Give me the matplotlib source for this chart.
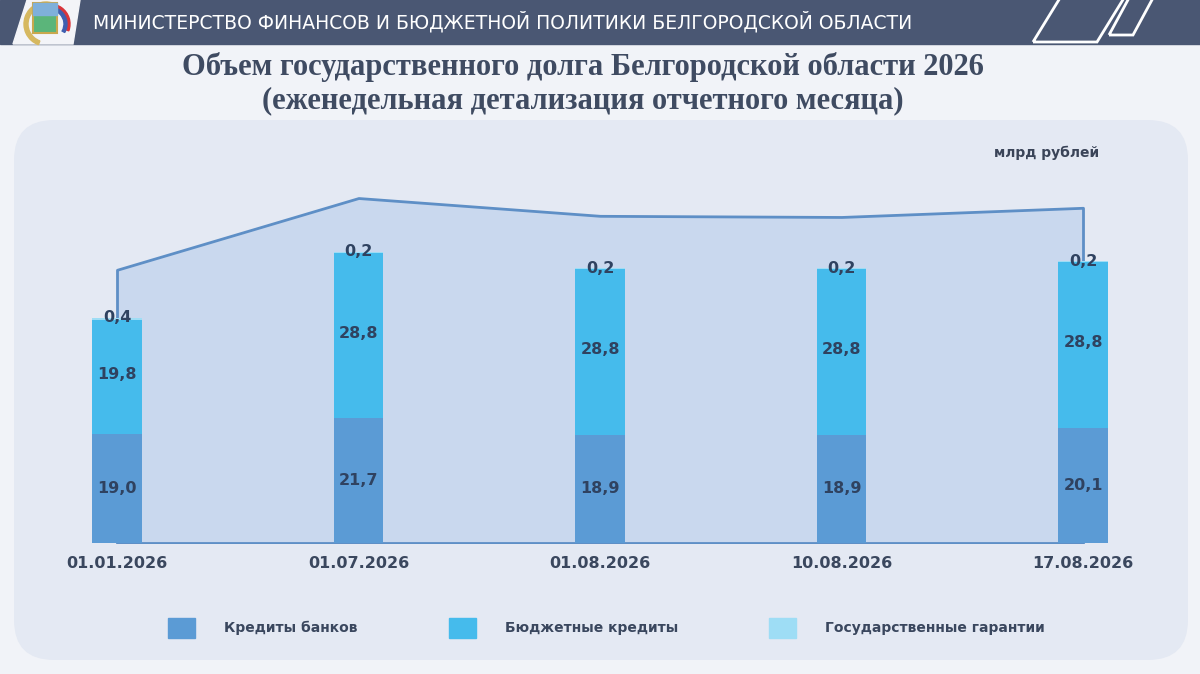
import matplotlib
matplotlib.use('Agg')
from matplotlib import pyplot as plt
from matplotlib.patches import FancyBboxPatch, Polygon, Rectangle, Wedge

# data (млрд рублей)
dates = ['01.01.2026', '01.07.2026', '01.08.2026', '10.08.2026', '17.08.2026']
bank_credits = [19.0, 21.7, 18.9, 18.9, 20.1]
budget_credits = [19.8, 28.8, 28.8, 28.8, 28.8]
guarantees = [0.4, 0.2, 0.2, 0.2, 0.2]
area_top = [47.6, 60.1, 57.0, 56.8, 58.4]  # decorative area over the bars
series_names = ['Кредиты банков', 'Бюджетные кредиты', 'Государственные гарантии']

c_bank = '#5B9BD5'
c_budget = '#45BBEC'
c_guar = '#9EDDF5'
c_text = '#2F4260'

W, H = 1200, 674
fig = plt.figure(figsize=(12, 6.74), dpi=100)
fig.patch.set_facecolor('#F1F3F8')

# background layer in pixel coords (y down)
bg = fig.add_axes([0, 0, 1, 1])
bg.set_xlim(0, W)
bg.set_ylim(H, 0)
bg.axis('off')

bg.add_patch(Rectangle((0, 0), W, 44, color='#4A5773'))
bg.add_patch(FancyBboxPatch((14, 120), 1174, 540, boxstyle='round,pad=0,rounding_size=40',
                            facecolor='#E4E9F3', edgecolor='none'))
# logo plate
bg.add_patch(Polygon([(13, 44), (27, 0), (80, 0), (73, 44)], closed=True, color='#F3F4F8'))
bg.add_patch(Wedge((46, 24), 22, 110, 290, width=4, color='#D6B860'))
bg.add_patch(Wedge((50, 24), 20, 230, 20, width=3, color='#D9343A'))
bg.add_patch(Wedge((50, 24), 17, 240, 30, width=3, color='#3F5FB0'))
bg.add_patch(Rectangle((33, 3), 24, 30, facecolor='#5BB57A', edgecolor='#C9A84E', lw=1.5))
bg.add_patch(Rectangle((33, 3), 24, 12, color='#7FB0DA'))
# header decoration
bg.add_patch(Polygon([(1033, 42), (1097, 42), (1124, -2), (1060, -2)], closed=True,
                     fill=False, edgecolor='white', lw=2))
bg.add_patch(Polygon([(1109, 35), (1133, 35), (1153, -2), (1129, -2)], closed=True,
                     fill=False, edgecolor='white', lw=2))

bg.text(93, 22, 'МИНИСТЕРСТВО ФИНАНСОВ И БЮДЖЕТНОЙ ПОЛИТИКИ БЕЛГОРОДСКОЙ ОБЛАСТИ',
        color='white', fontsize=13.5, ha='left', va='center')
bg.text(583, 67, 'Объем государственного долга Белгородской области 2026',
        color='#3F4B62', fontsize=22, fontweight='bold', ha='center', va='center',
        family='Liberation Serif')
bg.text(583, 101, '(еженедельная детализация отчетного месяца)',
        color='#3F4B62', fontsize=22, fontweight='bold', ha='center', va='center',
        family='Liberation Serif')
bg.text(1047, 153, 'млрд рублей', color='#3A4458', fontsize=10, fontweight='bold',
        ha='center', va='center')

# main chart: x=0 at 117 px, step 241.5 px, baseline at 543 px, 5.74 px per unit
step, x0, base, k = 241.5, 117, 543, 5.74
left_px, right_px, top_px = 14, 1188, 120
ax = fig.add_axes([left_px / W, (H - base) / H, (right_px - left_px) / W, (base - top_px) / H])
ax.set_xlim(-(x0 - left_px) / step, (right_px - x0) / step)
ax.set_ylim(0, (base - top_px) / k)
ax.patch.set_alpha(0)
for s in ax.spines.values():
    s.set_visible(False)

x = list(range(len(dates)))
ax.fill_between(x, area_top, 0, facecolor='#C9D8EE', edgecolor='#5E8FC6', linewidth=2, zorder=1)

bw = 0.203
bottom2 = bank_credits
bottom3 = [a + b for a, b in zip(bank_credits, budget_credits)]
ax.bar(x, bank_credits, bw, color=c_bank, zorder=2)
ax.bar(x, budget_credits, bw, bottom=bottom2, color=c_budget, zorder=2)
ax.bar(x, guarantees, bw, bottom=bottom3, color=c_guar, zorder=2)

fmt = lambda v: f'{v:.1f}'.replace('.', ',')
for i in x:
    ax.text(i, bank_credits[i] / 2, fmt(bank_credits[i]), ha='center', va='center',
            fontsize=11.5, fontweight='bold', color=c_text, zorder=3)
    ax.text(i, bottom2[i] + budget_credits[i] / 2 + 0.4, fmt(budget_credits[i]), ha='center', va='center',
            fontsize=11.5, fontweight='bold', color=c_text, zorder=3)
    ax.text(i, bottom3[i] + guarantees[i], fmt(guarantees[i]), ha='center', va='center',
            fontsize=11.5, fontweight='bold', color=c_text, zorder=3)

ax.set_xticks(x)
ax.set_xticklabels(dates, fontsize=11.5, fontweight='bold', color='#3A475E')
ax.tick_params(axis='x', length=0, pad=9)
ax.set_yticks([])

# legend, laid out by hand to match the original spacing
leg_x = [168, 449, 769]
for lx, name, col in zip(leg_x, series_names, [c_bank, c_budget, c_guar]):
    bg.add_patch(Rectangle((lx, 618), 27, 20, color=col))
    bg.text(lx + 56, 628, name, fontsize=10, fontweight='bold', color='#3A475E',
            ha='left', va='center')

fig.savefig('out.png', dpi=100, facecolor=fig.get_facecolor())
